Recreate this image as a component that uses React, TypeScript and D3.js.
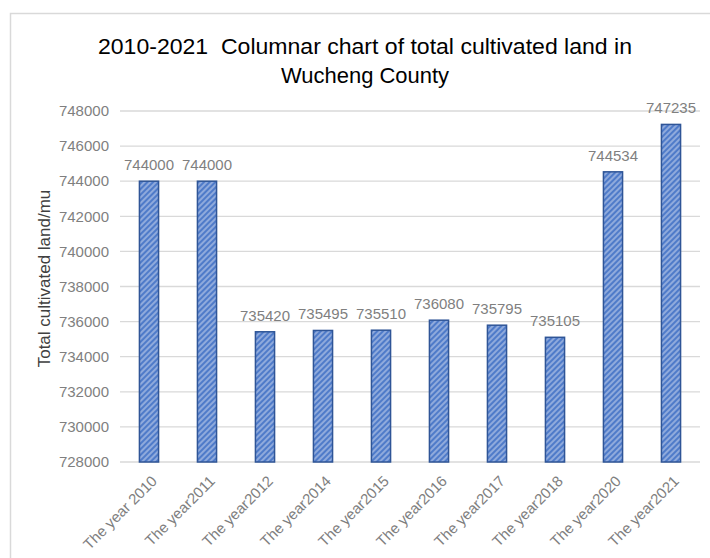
import React from "react";
import * as d3 from "d3";

const categories = [
  "The year 2010",
  "The year2011",
  "The year2012",
  "The year2014",
  "The year2015",
  "The year2016",
  "The year2017",
  "The year2018",
  "The year2020",
  "The year2021",
];
const values = [744000, 744000, 735420, 735495, 735510, 736080, 735795, 735105, 744534, 747235];
const yTicks = [728000, 730000, 732000, 734000, 736000, 738000, 740000, 742000, 744000, 746000, 748000];
const titleLines = ["2010-2021  Columnar chart of total cultivated land in", "Wucheng County"];
const yAxisTitle = "Total cultivated land/mu";

const W = 710;
const H = 558;
const plot = { left: 120, right: 700, top: 111, bottom: 462 };
const FONT = "'Liberation Sans', Arial, sans-serif";

export default function App() {
  const x = d3
    .scaleBand<string>()
    .domain(categories)
    .range([plot.left, plot.right])
    .paddingInner(0.67)
    .paddingOuter(0.335);
  const y = d3.scaleLinear().domain([728000, 748000]).range([plot.bottom, plot.top]);
  const bw = x.bandwidth();
  const titleLengths = [534, 168];

  return (
    <div style={{ position: "absolute", left: 0, top: 0, width: W, height: H, background: "#fff" }}>
      <svg width={W} height={H} style={{ display: "block" }}>
        <defs>
          <pattern
            id="hatch"
            width="4"
            height="4"
            patternUnits="userSpaceOnUse"
            patternTransform="rotate(45)"
          >
            <rect width="4" height="4" fill="#8faadc" />
            <rect width="2" height="4" fill="#4f7bc9" />
          </pattern>
        </defs>
        <rect x={10.5} y={13.5} width={W} height={H} fill="#fff" stroke="#d9d9d9" strokeWidth={1.5} />
        <g fontFamily={FONT}>
          {titleLines.map((t, i) => (
            <text
              key={i}
              x={365}
              y={54 + i * 29}
              textAnchor="middle"
              fontSize={22}
              fill="#000"
              style={{ whiteSpace: "pre" }}
              textLength={titleLengths[i]}
              lengthAdjust="spacingAndGlyphs"
            >
              {t}
            </text>
          ))}
          {yTicks.map((t) => (
            <g key={t}>
              <line x1={plot.left} x2={plot.right} y1={y(t)} y2={y(t)} stroke="#d9d9d9" strokeWidth={1.3} />
              <text x={109} y={y(t)} dy="0.35em" textAnchor="end" fontSize={15} fill="#7f7f7f">
                {t}
              </text>
            </g>
          ))}
          <text
            transform={`translate(50, ${(plot.top + plot.bottom) / 2 - 8}) rotate(-90)`}
            textAnchor="middle"
            fontSize={17}
            fill="#404040"
          >
            {yAxisTitle}
          </text>
          {categories.map((c, i) => {
            const x0 = x(c)!;
            const v = values[i];
            return (
              <g key={c}>
                <rect
                  x={x0}
                  y={y(v)}
                  width={bw}
                  height={plot.bottom - y(v)}
                  fill="url(#hatch)"
                  stroke="#2f5597"
                  strokeWidth={1.5}
                />
                <text x={x0 + bw / 2} y={y(v) - 11} textAnchor="middle" fontSize={15} fill="#7f7f7f">
                  {v}
                </text>
                <text
                  transform={`translate(${x0 + bw / 2 + 9}, ${plot.bottom + 20}) rotate(-45)`}
                  textAnchor="end"
                  fontSize={15}
                  fill="#7f7f7f"
                >
                  {c}
                </text>
              </g>
            );
          })}
        </g>
      </svg>
    </div>
  );
}
